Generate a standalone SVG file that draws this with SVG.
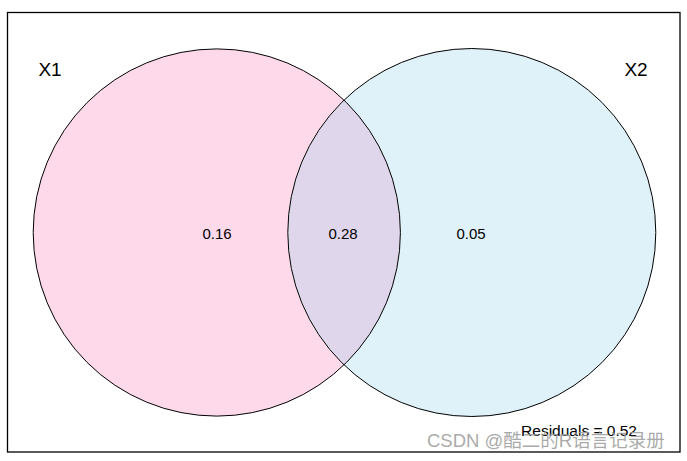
<svg xmlns="http://www.w3.org/2000/svg" width="687" height="461" viewBox="0 0 687 461">
<style>
.t{font-family:"Liberation Sans",Arial,sans-serif;fill:#000}
.c{stroke:#000;stroke-width:1;}
</style>
<rect x="0" y="0" width="687" height="461" fill="#fff"/>
<rect x="7.5" y="12.5" width="672.5" height="439.5" fill="none" stroke="#000" stroke-width="1.3"/>
<g id="X1">
<circle cx="216.8" cy="232.5" r="183.6" fill="#FED9EA"/>
</g>
<g id="X2">
<circle cx="471.8" cy="232.5" r="184" fill="#DFF1F9"/>
</g>
<g id="overlap">
<path d="M344.3 100.6 A183.6 183.6 0 0 1 344.3 364.4 A184 184 0 0 1 344.3 100.6 Z" fill="#E0D6EB"/>
</g>
<g id="outlines" fill="none">
<circle class="c" cx="216.8" cy="232.5" r="183.6"/>
<circle class="c" cx="471.8" cy="232.5" r="184"/>
</g>
<text class="t" x="50" y="76" font-size="19" text-anchor="middle">X1</text>
<text class="t" x="636" y="76" font-size="19" text-anchor="middle">X2</text>
<text class="t" x="217" y="239" font-size="15" text-anchor="middle">0.16</text>
<text class="t" x="343" y="239" font-size="15" text-anchor="middle">0.28</text>
<text class="t" x="471" y="239" font-size="15" text-anchor="middle">0.05</text>
<text class="t" x="637" y="436" font-size="15.5" text-anchor="end">Residuals = 0.52</text>
<text x="427" y="447" font-size="18.5" fill="#9a9a9a" fill-opacity="0.85" font-family="'Liberation Sans','Noto Sans CJK SC',sans-serif">CSDN @酷二的R语言记录册</text>
</svg>
